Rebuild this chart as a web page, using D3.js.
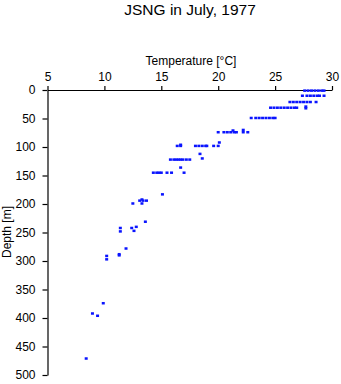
<!DOCTYPE html>
<html><head><meta charset="utf-8">
<script src="https://cdn.jsdelivr.net/npm/d3@7/dist/d3.min.js"></script>
<style>body{margin:0;background:#fff}svg{display:block}text{font-family:"Liberation Sans",Arial,sans-serif;fill:#000}</style>
</head><body>
<svg id="c" width="341" height="384"></svg>
<script>
const title = "JSNG in July, 1977";
const xLabel = "Temperature [°C]";
const yLabel = "Depth [m]";
const xTicks = [5, 10, 15, 20, 25, 30];
const yTicks = [0, 50, 100, 150, 200, 250, 300, 350, 400, 450, 500];
const temperature = [
  27.6, 27.9, 28.2, 28.5, 28.8, 29.1, 29.3,
  27.4, 27.8, 28.1, 28.4, 28.7, 28.9, 29.3,
  26.3, 26.6, 26.9, 27.2, 27.5, 27.8, 28.1, 28.6,
  24.6, 24.9, 25.2, 25.5, 25.8, 26.1, 26.4, 26.7, 26.9, 27.7, 27.7,
  22.9, 23.3, 23.6, 23.9, 24.2, 24.5, 24.8, 25.0,
  20.0, 20.5, 20.8, 21.1, 21.4, 21.6, 22.2, 22.6, 21.3, 22.2,
  20.1,
  16.4, 16.7, 18.0, 18.3, 18.6, 18.9, 19.0, 19.6, 20.0, 16.7,
  18.4,
  15.8, 16.1, 16.3, 16.5, 16.7, 16.9, 17.2, 17.5, 18.6,
  16.7,
  14.3, 14.6, 14.8, 15.0, 15.5, 15.9, 17.0,
  15.1,
  13.3, 13.1, 13.4, 13.7, 13.3, 12.5,
  13.6,
  11.4, 12.4, 12.8, 11.4, 12.6,
  11.9, 11.3, 10.2, 10.2, 11.3,
  9.9, 8.95, 9.4, 8.4
];
const depth = [
  1, 1, 1, 1, 1, 1, 1,
  10, 10, 10, 10, 10, 10, 10,
  21, 21, 21, 21, 21, 21, 21, 21,
  31, 31, 31, 31, 31, 31, 31, 31, 31, 29, 32,
  49, 49, 49, 49, 49, 49, 49, 49,
  74, 74, 74, 74, 74, 74, 74, 74, 71, 70,
  92,
  98, 98, 98, 98, 98, 98, 98, 98, 98, 96,
  112,
  122, 122, 122, 122, 122, 122, 122, 122, 120,
  136,
  145, 145, 145, 145, 145, 145, 145,
  183,
  192, 194, 194, 194, 199, 199,
  231,
  242, 242, 240, 248, 247,
  278, 288, 291, 297, 290,
  374, 392, 396, 471
];

const svg = d3.select("#c");
const x = d3.scaleLinear().domain([5, 30]).range([47.5, 332]);
const y = d3.scaleLinear().domain([0, 500]).range([90, 375]);

svg.append("text").attr("x", 190).attr("y", 15).attr("text-anchor", "middle")
  .style("font-size", "15.5px").text(title);
svg.append("text").attr("x", 191).attr("y", 65).attr("text-anchor", "middle")
  .style("font-size", "12px").text(xLabel);
svg.append("text").attr("transform", "translate(11,232) rotate(-90)").attr("text-anchor", "middle")
  .style("font-size", "12px").text(yLabel);

const xa = svg.append("g").attr("transform", `translate(0,${y(0)})`)
  .call(d3.axisTop(x).tickValues(xTicks).tickSize(4).tickSizeOuter(0).tickPadding(5).tickFormat(d3.format("d")));
const ya = svg.append("g").attr("transform", `translate(${x(5)},0)`)
  .call(d3.axisLeft(y).tickValues(yTicks).tickSize(5).tickSizeOuter(0).tickPadding(7).tickFormat(d3.format("d")));
[xa, ya].forEach(g => {
  g.selectAll("text").style("font-size", "12px").style("font-family", '"Liberation Sans",Arial,sans-serif').attr("fill", "#000");
  g.selectAll("line,path").attr("stroke", "#000").attr("stroke-width", 1.2);
});

const pts = temperature.map((t, i) => ({t, d: depth[i]}));
svg.append("g").selectAll("rect").data(pts).join("rect")
  .attr("x", d => x(d.t) - 1.5).attr("y", d => y(d.d) - 1.2)
  .attr("width", 3).attr("height", 2.5).attr("fill", "#0a14ff");
</script>
</body></html>
